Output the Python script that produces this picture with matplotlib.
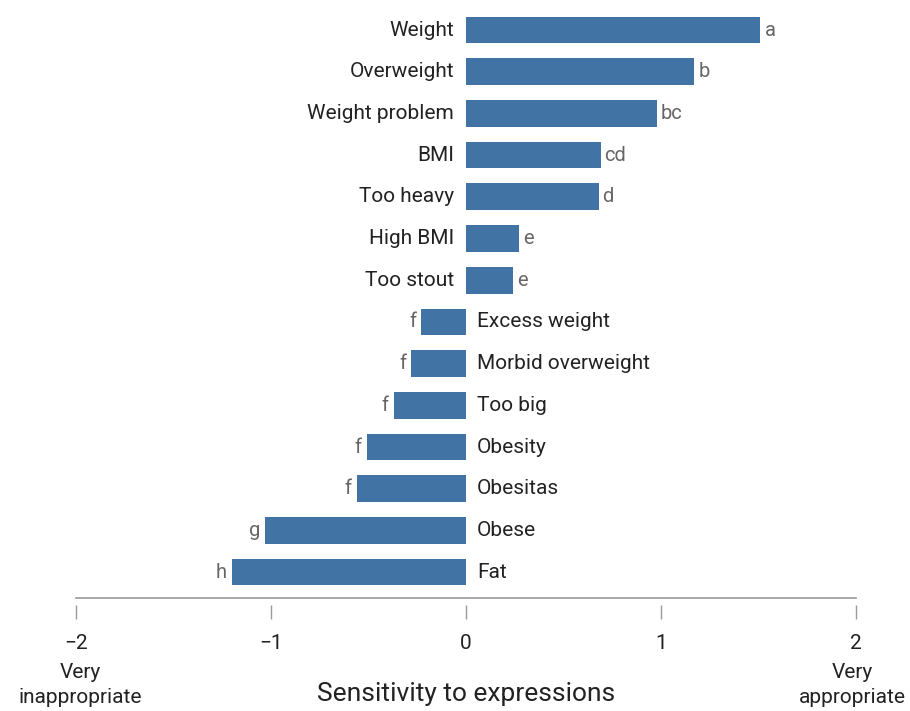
import matplotlib.pyplot as plt

# Mean sensitivity score per expression, with significance-group letters
expressions = ["Weight", "Overweight", "Weight problem", "BMI", "Too heavy",
               "High BMI", "Too stout", "Excess weight", "Morbid overweight",
               "Too big", "Obesity", "Obesitas", "Obese", "Fat"]
scores = [1.51, 1.17, 0.98, 0.69, 0.68, 0.27, 0.24, -0.23, -0.28,
          -0.37, -0.51, -0.56, -1.03, -1.20]
groups = ["a", "b", "bc", "cd", "d", "e", "e", "f", "f", "f", "f", "f", "g", "h"]
xticks = [-2, -1, 0, 1, 2]

plt.rcParams['font.family'] = ['Roboto', 'DejaVu Sans']

bar_color = "#4174a5"
label_color = "#222222"
letter_color = "#666666"
axis_color = "#9a9a9a"

fig = plt.figure(figsize=(9.1, 7.11), dpi=100)
ax = fig.add_axes([76 / 910, 113 / 711, 780 / 910, 588 / 711])

ypos = list(range(len(expressions)))
ax.barh(ypos, scores, height=0.64, color=bar_color)

for y, name, val, grp in zip(ypos, expressions, scores, groups):
    if val >= 0:
        ax.annotate(name, (0, y), xytext=(-12, 0), textcoords="offset pixels",
                    ha="right", va="center", fontsize=15, color=label_color)
        ax.annotate(grp, (val, y), xytext=(4, 0), textcoords="offset pixels",
                    ha="left", va="center", fontsize=14.5, color=letter_color)
    else:
        ax.annotate(name, (0, y), xytext=(11, 0), textcoords="offset pixels",
                    ha="left", va="center", fontsize=15, color=label_color)
        ax.annotate(grp, (val, y), xytext=(-5, 0), textcoords="offset pixels",
                    ha="right", va="center", fontsize=14.5, color=letter_color)

ax.set_xlim(-2, 2)
ax.set_ylim(13.62, -0.48)
ax.set_yticks([])

for side in ["top", "right", "left", "bottom"]:
    ax.spines[side].set_visible(False)

# baseline drawn separately so the ticks sit a little below it
ax.plot([0, 1], [0, 0], transform=ax.transAxes, color=axis_color,
        lw=1.2, clip_on=False)
ax.spines["bottom"].set_position(("outward", 5))
ax.set_xticks(xticks)
ax.set_xticklabels(["\u2212" + str(-t) if t < 0 else str(t) for t in xticks])
ax.tick_params(axis="x", length=10, width=1, color=axis_color, pad=11,
               labelsize=15, labelcolor=label_color)

ax.set_xlabel("Sensitivity to expressions", fontsize=19, color=label_color,
              labelpad=21)
ends = ax.get_xaxis_transform()
ax.text(-1.98, -0.111, "Very\ninappropriate", transform=ends,
        ha="center", va="top", fontsize=15, color=label_color,
        linespacing=1.4)
ax.text(1.98, -0.111, "Very\nappropriate", transform=ends,
        ha="center", va="top", fontsize=15, color=label_color,
        linespacing=1.4)

fig.savefig("out.png", dpi=100)
